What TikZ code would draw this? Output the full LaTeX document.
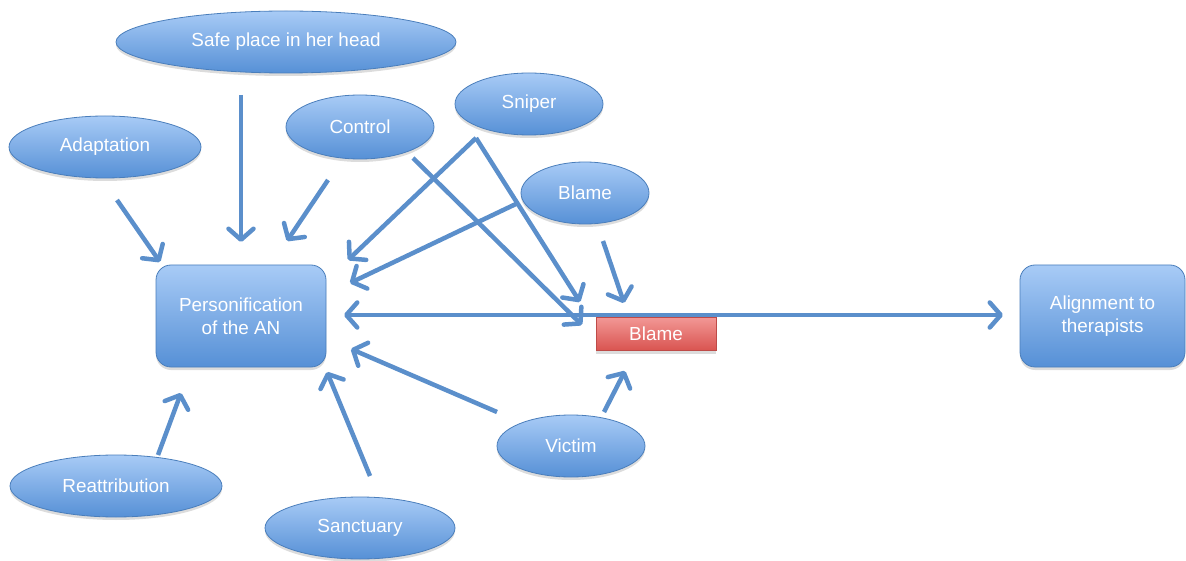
\documentclass[tikz,border=0pt]{standalone}
\usepackage{fontspec}
\setmainfont{Liberation Sans}
\usetikzlibrary{shapes.geometric,shadows,arrows.meta}

\definecolor{linkblue}{HTML}{5B8FCB}
\definecolor{ovaltop}{HTML}{A8CBF6}
\definecolor{ovalbot}{HTML}{5690D6}
\definecolor{ovaledge}{HTML}{4A7EBB}
\definecolor{redtop}{HTML}{F29795}
\definecolor{redbot}{HTML}{D95450}
\definecolor{rededge}{HTML}{BE4B48}

\tikzset{
  labelfont/.style={font=\fontsize{18.9}{22.7}\selectfont, text=white},
  softshadow/.style={drop shadow={opacity=0.28, shadow xshift=0pt, shadow yshift=-3pt}},
  bubble/.style={ellipse, draw=ovaledge, line width=0.8pt, inner sep=0pt,
    top color=ovaltop, bottom color=ovalbot, softshadow, labelfont},
  panel/.style={rectangle, rounded corners=15pt, draw=ovaledge, line width=0.8pt,
    inner sep=0pt, top color=ovaltop, bottom color=ovalbot, softshadow, labelfont,
    align=center},
  tagbox/.style={rectangle, draw=rededge, line width=0.8pt, inner sep=0pt,
    top color=redtop, bottom color=redbot, softshadow, labelfont},
  barb/.tip={Straight Barb[length=11pt,width=25pt,round]},
  link/.style={draw=linkblue, line width=4.5pt, -barb},
  twoway/.style={draw=linkblue, line width=4.5pt, barb-barb}
}

\begin{document}
\begin{tikzpicture}[x=1pt,y=-1pt]
  \useasboundingbox (0,0) rectangle (1186,561);

  % concepts
  \node[bubble, minimum width=340pt, minimum height=62pt] (safe) at (286,42) {Safe place in her head};
  \node[bubble, minimum width=148pt, minimum height=64pt] (control) at (360,127) {Control};
  \node[bubble, minimum width=148pt, minimum height=62pt] (sniper) at (529,104) {Sniper};
  \node[bubble, minimum width=128pt, minimum height=62pt] (blameov) at (585,193) {Blame};
  \node[bubble, minimum width=192pt, minimum height=62pt] (adapt) at (105,147) {Adaptation};
  \node[bubble, minimum width=212pt, minimum height=62pt] (reattr) at (116,486) {Reattribution};
  \node[bubble, minimum width=190pt, minimum height=62pt] (sanct) at (360,528) {Sanctuary};
  \node[bubble, minimum width=148pt, minimum height=62pt] (victim) at (571,446) {Victim};

  \node[panel, minimum width=170pt, minimum height=102pt] (pers) at (241,316) {Personification\\of the AN};
  \node[panel, minimum width=165pt, minimum height=102pt] (align) at (1102.5,316) {Alignment to\\therapists};
  \node[tagbox, minimum width=120pt, minimum height=33pt] (blamebox) at (656,334) {Blame};

  % connector end points
  \coordinate (adapt-out) at (117,200);
  \coordinate (pers-in-a) at (160,262);
  \coordinate (safe-out) at (241,95);
  \coordinate (pers-in-b) at (241,242);
  \coordinate (control-out-a) at (328,180);
  \coordinate (pers-in-c) at (287,241);
  \coordinate (sniper-out) at (476,138);
  \coordinate (pers-in-d) at (348,260);
  \coordinate (box-in-a) at (580,302);
  \coordinate (blameov-out-a) at (518,203);
  \coordinate (pers-in-e) at (350,283);
  \coordinate (control-out-b) at (413,158);
  \coordinate (box-in-b) at (582,325);
  \coordinate (blameov-out-b) at (603,241);
  \coordinate (box-in-c) at (624,303);
  \coordinate (victim-out-a) at (604,412);
  \coordinate (box-in-d) at (625,371);
  \coordinate (victim-out-b) at (497,412);
  \coordinate (pers-in-f) at (351,349);
  \coordinate (sanct-out) at (370,476);
  \coordinate (pers-in-g) at (327,372);
  \coordinate (reattr-out) at (158,455);
  \coordinate (pers-in-h) at (181,393);
  \coordinate (pers-in-i) at (344,315);
  \coordinate (align-in) at (1003,315);

  % influences
  \draw[link] (adapt-out) -- (pers-in-a);
  \draw[link] (safe-out) -- (pers-in-b);
  \draw[link] (control-out-a) -- (pers-in-c);
  \draw[link] (sniper-out) -- (pers-in-d);
  \draw[link] (sniper-out) -- (box-in-a);
  \draw[link] (blameov-out-a) -- (pers-in-e);
  \draw[link] (control-out-b) -- (box-in-b);
  \draw[link] (blameov-out-b) -- (box-in-c);
  \draw[link] (victim-out-a) -- (box-in-d);
  \draw[link] (victim-out-b) -- (pers-in-f);
  \draw[link] (sanct-out) -- (pers-in-g);
  \draw[link] (reattr-out) -- (pers-in-h);
  \draw[twoway] (pers-in-i) -- (align-in);
\end{tikzpicture}
\end{document}
